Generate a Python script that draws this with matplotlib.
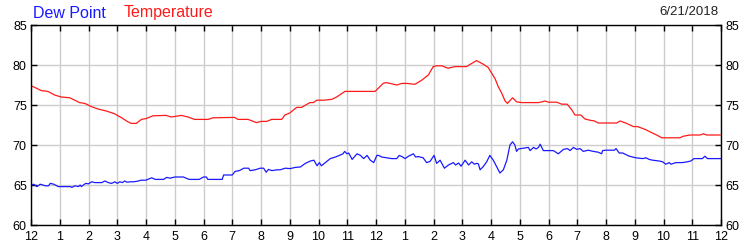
import matplotlib
matplotlib.use("Agg")
import matplotlib.pyplot as plt

# Temperature (hours since midnight, degF)
temp_hours = [0.0, 0.13, 0.36, 0.59, 0.82, 1.05, 1.35, 1.52, 1.69, 1.87, 2.1, 2.33, 2.62, 2.91,
              3.2, 3.37, 3.49, 3.66, 3.84, 4.0, 4.24, 4.7, 4.88, 5.23, 5.46, 5.69, 6.16, 6.33,
              7.08, 7.2, 7.55, 7.84, 8.0, 8.2, 8.37, 8.72, 8.83, 9.0, 9.24, 9.41, 9.7, 9.82,
              9.94, 10.17, 10.46, 10.63, 10.92, 11.97, 12.25, 12.35, 12.55, 12.72, 12.9, 13.07,
              13.3, 13.36, 13.59, 13.82, 13.99, 14.11, 14.29, 14.5, 14.75, 15.15, 15.33, 15.5,
              15.73, 15.9, 16.14, 16.25, 16.37, 16.49, 16.57, 16.75, 16.89, 17.07, 17.65, 17.78,
              17.88, 18.0, 18.29, 18.46, 18.65, 18.81, 18.92, 19.12, 19.27, 19.44, 19.6, 19.73,
              20.37, 20.49, 20.72, 20.95, 21.1, 21.36, 21.53, 21.76, 21.94, 22.57, 22.69, 22.92,
              23.27, 23.39, 23.5, 23.97]
temp_values = [77.4, 77.2, 76.8, 76.7, 76.25, 76.0, 75.9, 75.6, 75.3, 75.2, 74.8, 74.5, 74.25, 73.9,
               73.3, 72.9, 72.7, 72.7, 73.2, 73.3, 73.65, 73.7, 73.5, 73.7, 73.5, 73.2, 73.2, 73.4,
               73.45, 73.2, 73.2, 72.8, 72.95, 72.95, 73.2, 73.2, 73.75, 74.0, 74.7, 74.7, 75.3, 75.3,
               75.6, 75.6, 75.7, 76.0, 76.7, 76.7, 77.7, 77.8, 77.65, 77.5, 77.7, 77.7,
               77.6, 77.6, 78.1, 78.75, 79.8, 79.9, 79.9, 79.6, 79.8, 79.8, 80.2, 80.55,
               80.1, 79.7, 78.3, 77.3, 76.5, 75.5, 75.2, 75.9, 75.4, 75.3, 75.3, 75.4,
               75.5, 75.35, 75.35, 75.1, 75.1, 74.4, 73.75, 73.75, 73.25, 73.1, 73.0, 72.75,
               72.75, 73.0, 72.7, 72.3, 72.3, 71.95, 71.65, 71.25, 70.9, 70.9, 71.1, 71.25,
               71.25, 71.4, 71.25, 71.25]

# Dew point (hours since midnight, degF)
dew_hours = [0.0, 0.09, 0.21, 0.32, 0.5, 0.61, 0.67, 0.79, 0.95, 1.25, 1.37, 1.42, 1.53, 1.65,
             1.71, 1.75, 1.9, 2.0, 2.11, 2.23, 2.34, 2.46, 2.57, 2.69, 2.8, 2.92, 3.0, 3.09,
             3.18, 3.26, 3.34, 3.46, 3.57, 3.74, 3.82, 3.9, 4.0, 4.06, 4.2, 4.32, 4.61, 4.72,
             4.84, 5.0, 5.3, 5.5, 5.85, 6.0, 6.1, 6.15, 6.65, 6.7, 7.0, 7.1, 7.25, 7.4, 7.57,
             7.62, 7.8, 7.97, 8.09, 8.18, 8.26, 8.38, 8.55, 8.67, 8.84, 9.02, 9.19, 9.37, 9.54,
             9.72, 9.84, 9.95, 10.03, 10.1, 10.24, 10.41, 10.59, 10.76, 10.85, 10.91, 10.99,
             11.05, 11.17, 11.34, 11.46, 11.57, 11.69, 11.8, 11.92, 12.03, 12.09, 12.2, 12.37,
             12.55, 12.72, 12.81, 12.93, 13.01, 13.13, 13.3, 13.38, 13.47, 13.64, 13.76, 13.88,
             14.02, 14.11, 14.23, 14.38, 14.52, 14.69, 14.77, 14.87, 14.96, 15.1, 15.22, 15.33,
             15.42, 15.5, 15.56, 15.62, 15.73, 15.85, 15.96, 16.08, 16.31, 16.43, 16.55, 16.66,
             16.75, 16.83, 16.89, 16.95, 17.3, 17.36, 17.48, 17.57, 17.65, 17.71, 17.82, 17.88,
             18.17, 18.34, 18.52, 18.66, 18.75, 18.87, 18.98, 19.1, 19.21, 19.38, 19.56, 19.73,
             19.85, 19.88, 20.0, 20.29, 20.35, 20.46, 20.58, 20.81, 21.04, 21.27, 21.39, 21.5,
             21.62, 21.85, 21.97, 22.08, 22.2, 22.26, 22.43, 22.66, 22.83, 22.95, 23.06, 23.35,
             23.44, 23.53, 24.0]
dew_values = [64.9, 65.1, 64.8, 65.1, 64.9, 64.9, 65.2, 65.1, 64.8, 64.8, 64.8, 64.7, 64.9, 64.8,
              65.0, 64.8, 65.2, 65.15, 65.4, 65.3, 65.3, 65.3, 65.5, 65.3, 65.2, 65.4, 65.2, 65.4,
              65.3, 65.5, 65.35, 65.4, 65.4, 65.5, 65.6, 65.6, 65.6, 65.7, 65.9, 65.7, 65.7, 65.95,
              65.85, 66.0, 66.0, 65.7, 65.7, 66.0, 66.0, 65.7, 65.7, 66.25, 66.25, 66.7, 66.8, 67.1, 67.1,
              66.8, 66.9, 67.1, 67.1, 66.6, 66.95, 66.8, 66.9, 66.9, 67.1, 67.05, 67.2, 67.25, 67.7,
              68.0, 68.1, 67.4, 67.8, 67.4, 67.8, 68.3, 68.5, 68.75, 68.9, 69.2, 68.9,
              69.0, 68.2, 68.9, 68.7, 68.3, 68.7, 68.1, 67.8, 68.7, 68.7, 68.5, 68.4,
              68.3, 68.3, 68.7, 68.5, 68.3, 68.6, 68.9, 68.5, 68.55, 68.4, 67.8, 67.95,
              68.7, 67.7, 68.1, 67.1, 67.5, 67.8, 67.5, 67.75, 67.35, 68.1, 67.5, 67.9,
              67.6, 67.7, 67.65, 66.9, 67.3, 67.9, 68.7, 68.1, 66.5, 66.9, 68.1, 70.0,
              70.4, 70.0, 69.2, 69.5, 69.7, 69.3, 69.7, 69.5, 69.7, 70.1, 69.3, 69.3,
              69.3, 68.9, 69.45, 69.55, 69.3, 69.7, 69.45, 69.55, 69.2, 69.35, 69.2, 69.1, 68.9,
              69.3, 69.35, 69.35, 69.55, 69.0, 69.0, 68.6, 68.4, 68.3, 68.4, 68.2,
              68.1, 68.0, 67.9, 67.6, 67.8, 67.6, 67.8, 67.8, 67.9, 68.0, 68.3, 68.3,
              68.6, 68.3, 68.3]

tick_labels = ['12', '1', '2', '3', '4', '5', '6', '7', '8', '9', '10', '11',
               '12', '1', '2', '3', '4', '5', '6', '7', '8', '9', '10', '11', '12']
y_ticks = [60, 65, 70, 75, 80, 85]

plt.rcParams['font.family'] = ['Liberation Sans', 'DejaVu Sans']

fig = plt.figure(figsize=(7.5, 2.5), dpi=100)
ax = fig.add_axes([31/750, 25/250, 690/750, 200/250])

ax.plot(dew_hours, dew_values, color='#1a1aff', lw=0.9)
ax.plot(temp_hours, temp_values, color='#ff1a1a', lw=0.9)

ax.set_xlim(0, 24)
ax.set_ylim(60, 85)
ax.set_xticks(range(25))
ax.set_xticklabels(tick_labels, fontsize=9)
ax.set_yticks(y_ticks)
ax.set_yticklabels([str(v) for v in y_ticks], fontsize=9)
ax.grid(True, color='#cccccc', lw=1)
ax.set_axisbelow(True)
ax.tick_params(axis='both', direction='in', length=4, width=1, color='black',
               top=True, right=True, labelright=True, pad=3)
ax.tick_params(axis='x', pad=4)
for s in ax.spines.values():
    s.set_color('black')
    s.set_linewidth(1)

fig.text(33/750, 1 - 13/250, 'Dew Point', color='#1a1aff', fontsize=11.5, va='center', ha='left')
fig.text(124/750, 1 - 13/250, 'Temperature', color='#ff1a1a', fontsize=11.5, va='center', ha='left')
fig.text(718/750, 1 - 12/250, '6/21/2018', color='#222222', fontsize=9.5, va='center', ha='right')

fig.savefig('out.png', dpi=100)
